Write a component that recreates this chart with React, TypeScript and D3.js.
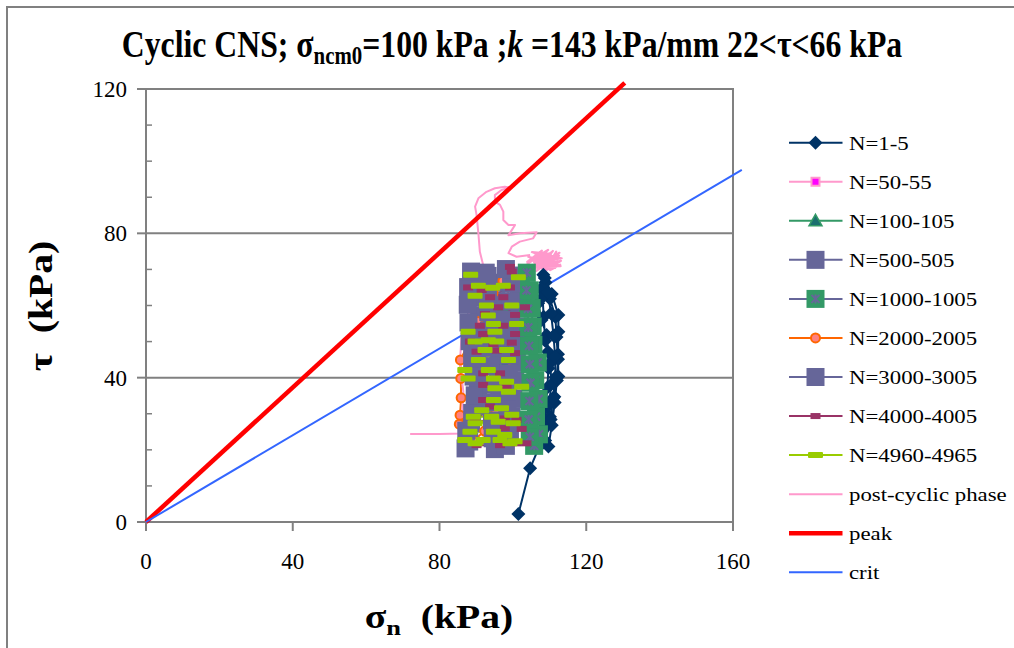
import React from 'react';
import * as d3 from 'd3';

type Pt = [number, number];

const X_TICKS = [0, 40, 80, 120, 160];
const Y_TICKS = [0, 40, 80, 120];
const Y_MINOR = [10, 20, 30, 50, 60, 70, 90, 100, 110];
const GRID_Y = [40, 80];

const N1_5: Pt[] = [
  [101.5, 2.2], [104.7, 14.9], [107.2, 20.9], [108.3, 25.5], [110.1, 29.2], [111.3, 34.7], [112.4, 40.3],
  [112.3, 46.5], [112.4, 52.7], [112.4, 57.4], [110.6, 63.2], [108.3, 68.5], [107.6, 64.6], [106.9, 60.6],
  [107.8, 56], [109.2, 51.8], [109.6, 47.2], [109.7, 42.6], [109.4, 37.3], [108.9, 31.6], [108.6, 26.4],
  [109.7, 20.9], [110.6, 26.8], [111.4, 33.1], [112, 39.2], [112.3, 45.1], [111.9, 51.3], [111.6, 56.8],
  [110.1, 61.9], [108.9, 66.4], [108.1, 62.3], [108.4, 56.9], [108.8, 50.2], [110.2, 44.1], [110.5, 38.2],
  [109.8, 32.4], [109.2, 27.1], [108.8, 22.6], [110.3, 28.4], [110.9, 34.2], [111.6, 40.1], [111.5, 45.8],
  [111.1, 51.6], [110.4, 57.8], [109.5, 63.7], [108.7, 67.6],
];

const N50_55: Pt[] = [
  [103.6, 71.2], [108.2, 74.6], [105.1, 70.3], [110.9, 75.1], [106.4, 69.6], [112.6, 73.8], [107.2, 70.8],
  [113.1, 72.4], [108.5, 69.4], [111.8, 74.9], [109.3, 70.1], [112.9, 71.3], [110.2, 69.8], [106.8, 73.2],
  [111.5, 70.4], [104.9, 72.6], [109.6, 75.4], [105.8, 71.9], [112.2, 72.8], [107.5, 74.1], [110.6, 71.1],
  [104.2, 73.5], [108.9, 72.3], [113.3, 73.1], [106.1, 74.4], [111.2, 73.6], [105.4, 69.9], [109.8, 73.9],
  [103.9, 72.1], [107.9, 75.2], [106.6, 71.4], [112.7, 74.6], [108.1, 70.2], [111.4, 72.1], [105.2, 74.8],
  [110.4, 74.3], [107.1, 72.6], [113.0, 70.9], [104.6, 70.8], [109.1, 71.6],
];

const N100_105: Pt[] = [
  [94.5, 40.2], [95.1, 45.6], [95.8, 50.3], [96.2, 55.4], [96.7, 60.1], [97.3, 55.2], [97.8, 49.6],
  [98.1, 44.3], [97.6, 38.9], [96.3, 33.5],
];

const N500_505: Pt[] = [
  [88.1, 22.3], [88.6, 27.4], [90.1, 32.2], [90.5, 37.1], [90.1, 42.3], [90.3, 47.2], [90.6, 52.1],
  [90.8, 57.3], [91.1, 62.2], [91.6, 66.8], [92.6, 69.1], [95.2, 66.3], [95.4, 61.2], [95.8, 56.1],
  [96.1, 51.3], [96.3, 46.2], [96.5, 41.1], [96.8, 36.2], [97.1, 31.3], [97.3, 26.2], [97.6, 22.1],
  [99.2, 24.3], [99.6, 29.2], [100.1, 34.1], [100.6, 39.2], [101.1, 44.1], [101.3, 49.2], [101.6, 54.1],
  [101.8, 59.2], [102.1, 64.1], [102.2, 68.3],
];

const N1000_1005: Pt[] = [
  [103.8, 69.1], [104.6, 64.2], [105.1, 59.3], [105.4, 54.2], [105.6, 49.1], [106.8, 44.2], [106.1, 39.3],
  [107, 34.1], [106.3, 29.2], [107.1, 24.3], [105.8, 21.1], [104.6, 23.6], [104.3, 28.4], [104.5, 33.5],
  [104.8, 38.6], [104.6, 43.7], [104.4, 48.8], [104.2, 53.9], [104.1, 59.1], [103.7, 64.2],
];

const N2000_2005: Pt[] = [
  [85.4, 27.1], [85.6, 29.6], [85.9, 34.4], [85.8, 39.8], [85.7, 44.9], [88.3, 50.2], [90.4, 55.6],
  [94.6, 63.5], [97.3, 66.8], [100.2, 60.4], [99.7, 52.7], [99.1, 45.2], [98.2, 38.1], [95.4, 30.6],
  [92.3, 25.2], [89.1, 22.4],
];

const N3000_3005: Pt[] = [
  [87.1, 20.4], [87.3, 25.3], [88.9, 30.2], [89.6, 35.1], [89.3, 40.3], [88.9, 45.2], [88.2, 50.1],
  [87.9, 55.3], [87.7, 60.2], [87.8, 65.1], [88.6, 69.4], [93.1, 68.2], [93.2, 63.1], [93.3, 58.2],
  [93.5, 53.1], [93.6, 48.3], [93.8, 43.2], [94.1, 38.1], [94.1, 33.2], [94.3, 28.1], [94.5, 23.2],
  [95.1, 20.2], [98.1, 21.1], [98.3, 26.2], [98.5, 31.1], [98.7, 36.2], [98.9, 41.1], [99.1, 46.2],
  [99.1, 51.3], [99.2, 56.1], [99.4, 61.2], [99.5, 66.1], [98.1, 70.1],
];

const N4000_4005: Pt[] = [
  [99.2, 70.7], [99.7, 69.4], [87.8, 65], [91.5, 64.3], [99.2, 65], [93.8, 62.3], [97.4, 62.3],
  [96, 59.5], [103.3, 59.5], [92.4, 57.6], [100.6, 57.4], [91, 54.4], [97.4, 54.4], [91.9, 52.1],
  [100.6, 52.1], [88.3, 50], [94.7, 49.3], [99.7, 49.7], [90.1, 47.2], [95.6, 47.5], [100.6, 46.8],
  [91.9, 41.2], [96.5, 41.2], [91.9, 38], [98.3, 37.5], [91.9, 33.8], [93.8, 32], [89.7, 27.8],
  [97.8, 28.7], [101, 28.3], [97.8, 26], [102.4, 25.8], [90.1, 21.3], [96.5, 21.3], [101, 21.8],
  [103.7, 21.8],
];

const N4960_4965: Pt[] = [
  [88.5, 68.5], [101.5, 67.8], [90.6, 65.5], [94.5, 64.9], [97.4, 65.5], [89.7, 62.7], [92.8, 60],
  [99.7, 60], [93.3, 57.2], [94.7, 54.9], [101, 54.9], [87.8, 52.7], [95.1, 52.7], [89.7, 50],
  [93.3, 50.4], [95.6, 50], [92.4, 47.7], [98.3, 47.7], [90.6, 44.9], [98.8, 44.9], [86.9, 42.1],
  [93.3, 42.1], [87.8, 39.8], [94.7, 39.8], [98.3, 38.9], [102.4, 37.5], [95.1, 37.1], [98.8, 36.1],
  [94.7, 33.8], [91.5, 31], [96.9, 31.5], [89.2, 29.2], [94.2, 29.2], [99.7, 29.7], [89.7, 27.4],
  [96, 27.8], [100.1, 27.4], [88.3, 25], [94.7, 25], [97.8, 24.1], [86.9, 22.7], [91.9, 22.7],
  [96.5, 22.7], [100.6, 22.4], [89.7, 21.8], [99.2, 21.8],
];

const POST_CYCLIC: Pt[] = [
  [72, 24.4], [80, 24.4], [86.2, 24.5], [86.8, 26.2], [86.2, 30.5], [86.5, 36.1], [86, 40.3],
  [85.6, 44.9], [86, 51.4], [87.4, 56], [89.5, 62.5], [92.4, 68], [91.9, 71.2], [91, 74.9], [90.6, 80],
  [90.1, 85.1], [89.7, 87.4], [90.6, 89.7], [92.8, 91.5], [95.1, 92.5], [97.8, 92.9], [99.2, 92.7],
  [96.9, 92], [95.1, 90.6], [95.1, 88.8], [96.5, 87.9], [97.4, 86], [97.4, 83.7], [98.8, 82.3],
  [100.6, 82.3], [99.7, 80.9], [98.8, 79.5], [101.9, 80], [106.5, 80.3], [105.5, 78.6], [101.9, 77.7],
  [99.7, 76.3], [98.8, 74.5], [101, 73.5], [104.7, 74],
];

const PEAK: Pt[] = [[0, 0], [130.5, 121.7]];
const CRIT: Pt[] = [[0, 0], [162.4, 97.6]];

const SERIES = [
  { name: 'N=1-5', data: N1_5, line: '#003366', lw: 2, marker: 'diamond' },
  { name: 'N=50-55', data: N50_55, line: '#ff99cc', lw: 2.2, marker: 'pinkSquare', plotMarker: false },
  { name: 'N=100-105', data: N100_105, line: '#339966', lw: 2, marker: 'triangle' },
  { name: 'N=500-505', data: N500_505, line: '#666699', lw: 2, marker: 'bigSquare' },
  { name: 'N=1000-1005', data: N1000_1005, line: '#666699', lw: 2, marker: 'starSquare' },
  { name: 'N=2000-2005', data: N2000_2005, line: '#ff6600', lw: 2, marker: 'circle' },
  { name: 'N=3000-3005', data: N3000_3005, line: '#666699', lw: 2, marker: 'bigSquare' },
  { name: 'N=4000-4005', data: N4000_4005, line: '#993366', lw: 2, marker: 'dashS' },
  { name: 'N=4960-4965', data: N4960_4965, line: '#99cc00', lw: 2, marker: 'dashL' },
  { name: 'post-cyclic phase', data: POST_CYCLIC, line: '#ff99cc', lw: 2, marker: 'none' },
  { name: 'peak', data: PEAK, line: '#ff0000', lw: 4.5, marker: 'none' },
  { name: 'crit', data: CRIT, line: '#3366ff', lw: 2, marker: 'none' },
];

const W = 1014;
const H = 648;
const PLOT = { left: 146, right: 733, top: 89, bottom: 522 };
const FONT = '"Liberation Serif", "Times New Roman", serif';

const xS = d3.scaleLinear().domain([0, 160]).range([PLOT.left, PLOT.right]);
const yS = d3.scaleLinear().domain([0, 120]).range([PLOT.bottom, PLOT.top]);
const lineGen = d3.line<Pt>().x((d) => xS(d[0])).y((d) => yS(d[1]));

function Marker({ kind, cx, cy }: { kind: string; cx: number; cy: number }) {
  switch (kind) {
    case 'diamond': {
      const r = 7;
      return <polygon points={`${cx},${cy - r} ${cx + r},${cy} ${cx},${cy + r} ${cx - r},${cy}`} fill="#003366" />;
    }
    case 'pinkSquare':
      return <rect x={cx - 4} y={cy - 4} width={8} height={8} fill="#ff00ff" stroke="#ff99cc" strokeWidth={2} />;
    case 'triangle':
      return <polygon points={`${cx},${cy - 6.5} ${cx + 6.5},${cy + 5} ${cx - 6.5},${cy + 5}`} fill="#1a6f6f" stroke="#339966" strokeWidth={1.5} />;
    case 'bigSquare':
      return <rect x={cx - 9} y={cy - 9} width={18} height={18} fill="#666699" />;
    case 'starSquare':
      return (
        <g>
          <rect x={cx - 9} y={cy - 9} width={18} height={18} fill="#339966" />
          <path d={`M${cx - 4},${cy - 4}L${cx + 4},${cy + 4}M${cx + 4},${cy - 4}L${cx - 4},${cy + 4}M${cx},${cy - 4.5}L${cx},${cy + 4.5}`} stroke="#666699" strokeWidth={2} />
        </g>
      );
    case 'circle':
      return <circle cx={cx} cy={cy} r={4.5} fill="#ff8080" stroke="#ff6600" strokeWidth={2} />;
    case 'dashS':
      return <rect x={cx - 5} y={cy - 3} width={10} height={6} fill="#993366" />;
    case 'dashL':
      return <rect x={cx - 7.5} y={cy - 3} width={15} height={6} rx={1} fill="#99cc00" />;
    default:
      return null;
  }
}

export default function App() {
  const legendY0 = 142.7;
  const legendStep = 39.05;
  return (
    <svg width={W} height={H} style={{ position: 'absolute', left: 0, top: 0, background: '#fff' }} fontFamily={FONT}>
      <rect x={0} y={0} width={W} height={H} fill="#ffffff" />
      <rect x={7} y={7} width={W + 20} height={H + 20} fill="none" stroke="#808080" strokeWidth={2} />

      {/* title */}
      <text transform="translate(512,57) scale(0.835,1)" textAnchor="middle" fontSize={38} fontWeight="bold" fill="#000">
        <tspan>Cyclic CNS; σ</tspan>
        <tspan fontSize={25} dy={7}>ncm0</tspan>
        <tspan dy={-7}>=100 kPa ;</tspan>
        <tspan fontStyle="italic">k</tspan>
        <tspan> =143 kPa/mm 22&lt;τ&lt;66 kPa</tspan>
      </text>

      {/* grid */}
      {GRID_Y.map((v) => (
        <line key={'g' + v} x1={PLOT.left} x2={PLOT.right} y1={yS(v)} y2={yS(v)} stroke="#808080" strokeWidth={2} />
      ))}
      <rect x={PLOT.left} y={PLOT.top} width={PLOT.right - PLOT.left} height={PLOT.bottom - PLOT.top} fill="none" stroke="#808080" strokeWidth={2} />

      {Y_TICKS.map((v) => (
        <g key={'yt' + v}>
          <line x1={PLOT.left - 9} x2={PLOT.left} y1={yS(v)} y2={yS(v)} stroke="#808080" strokeWidth={2} />
          <text x={127} y={yS(v)} dy="0.35em" textAnchor="end" fontSize={23} fill="#000">{v}</text>
        </g>
      ))}
      {Y_MINOR.map((v) => (
        <line key={'ym' + v} x1={PLOT.left} x2={PLOT.left + 6} y1={yS(v)} y2={yS(v)} stroke="#808080" strokeWidth={1.5} />
      ))}
      {X_TICKS.map((v) => (
        <g key={'xt' + v}>
          <line x1={xS(v)} x2={xS(v)} y1={PLOT.bottom} y2={PLOT.bottom + 9} stroke="#808080" strokeWidth={2} />
          <text x={xS(v)} y={569} textAnchor="middle" fontSize={23} fill="#000">{v}</text>
        </g>
      ))}

      {/* axis titles */}
      <text transform="translate(52,306) rotate(-90) scale(1.2,1)" textAnchor="middle" fontSize={33} fontWeight="bold" style={{ whiteSpace: 'pre' }}>
        {'τ  (kPa)'}
      </text>
      <text transform="translate(439,628) scale(1.2,1)" textAnchor="middle" fontSize={33} fontWeight="bold" style={{ whiteSpace: 'pre' }}>
        <tspan>σ</tspan>
        <tspan fontSize={22} dy={7}>n</tspan>
        <tspan dy={-7}>{'  (kPa)'}</tspan>
      </text>

      {/* series lines (all lines below all markers) */}
      {SERIES.map((s) => (
        <path key={'l' + s.name} d={lineGen(s.data as Pt[]) || ''} fill="none" stroke={s.line} strokeWidth={s.lw} strokeLinejoin="round" />
      ))}
      {SERIES.map((s) =>
        s.marker === 'none' || s.plotMarker === false ? null : (
          <g key={'m' + s.name}>
            {(s.data as Pt[]).map((d, i) => (
              <Marker key={i} kind={s.marker} cx={xS(d[0])} cy={yS(d[1])} />
            ))}
          </g>
        )
      )}

      {/* legend */}
      {SERIES.map((s, i) => {
        const y = legendY0 + i * legendStep;
        return (
          <g key={'lg' + s.name}>
            <line x1={789} x2={842.5} y1={y} y2={y} stroke={s.line} strokeWidth={s.lw} />
            <Marker kind={s.marker} cx={815.5} cy={y} />
            <text transform={`translate(849,${y}) scale(1.17,1)`} dy="0.35em" fontSize={19.5} fill="#000">{s.name}</text>
          </g>
        );
      })}
    </svg>
  );
}
